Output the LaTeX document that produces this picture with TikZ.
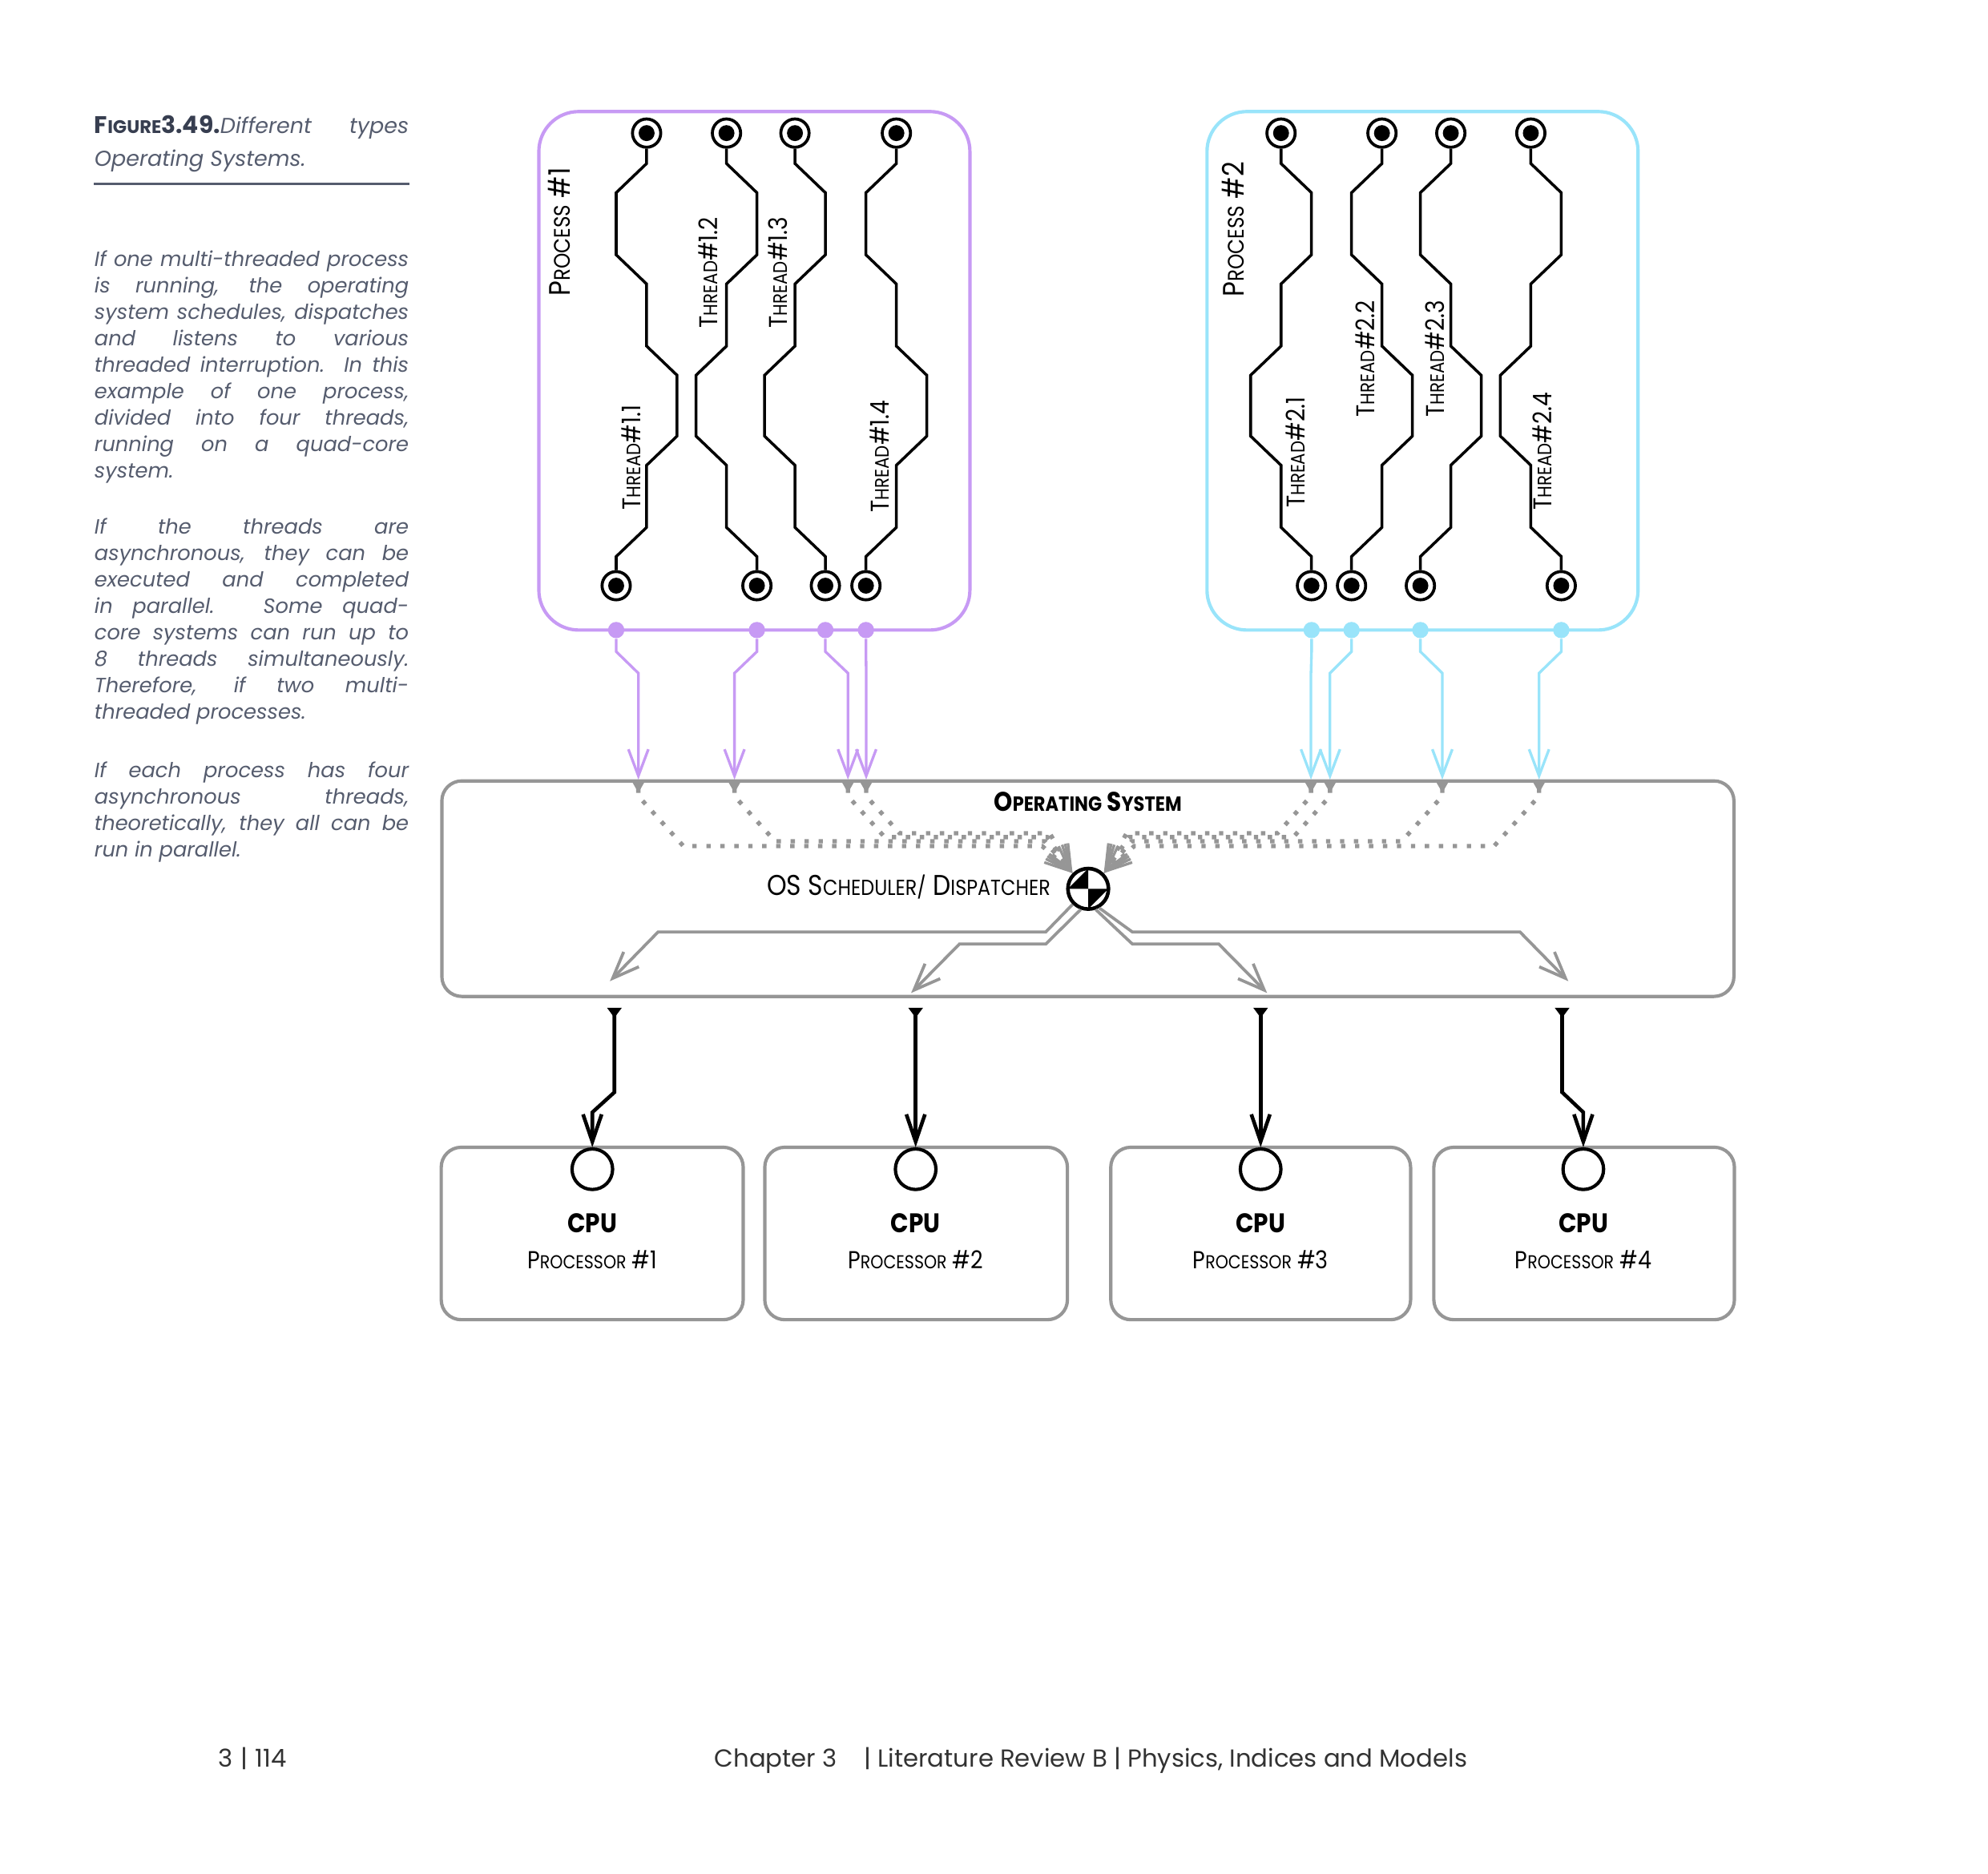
\documentclass[tikz,border=0pt]{standalone}
\usepackage{fontspec}
\usepackage{graphicx}
\setmainfont{Poppins}
\newfontfamily\labfont[FakeStretch=0.88]{Poppins}
\usetikzlibrary{arrows.meta}

\definecolor{procA}{RGB}{199,154,244}
\definecolor{procB}{RGB}{153,228,250}
\definecolor{osgray}{RGB}{150,150,150}
\definecolor{slate}{RGB}{85,92,110}
\definecolor{slatedark}{RGB}{55,62,80}
\definecolor{footgray}{RGB}{50,50,50}

% fake small caps: first letter full size, rest scaled down
\newcommand{\smc}[2]{#1\scalebox{0.76}{#2}}

\tikzset{
  term/.style={circle, draw, line width=0.9pt, fill=white, inner sep=0pt, minimum size=8.5pt,
    path picture={\fill[black] (path picture bounding box.center) circle (2.4pt);}},
  wire/.style={line width=0.85pt},
  procbox/.style={line width=1pt, rounded corners=12pt},
  joint/.style={circle, inner sep=0pt, minimum size=4.9pt},
  feed/.style={line width=0.8pt, -{Straight Barb[length=8pt,width=6pt]}},
  osbox/.style={draw=osgray, line width=1pt, rounded corners=6pt},
  disp/.style={circle, draw, line width=1.1pt, fill=white, inner sep=0pt, minimum size=12.2pt,
    path picture={
      \fill[black] (path picture bounding box.center) -- (path picture bounding box.west) -- (path picture bounding box.north) -- cycle;
      \fill[black] (path picture bounding box.center) -- (path picture bounding box.east) -- (path picture bounding box.south) -- cycle;}},
  dotline/.style={draw=osgray, line width=1.3pt, dash pattern=on 1.3pt off 2.9pt,
    arrows={Triangle[reversed,length=4pt,width=4.2pt]-Straight Barb[length=7.5pt,width=6.5pt,line width=0.8pt]}},
  outarrow/.style={draw=osgray, line width=0.9pt, -{Straight Barb[length=8pt,width=6.4pt]}},
  cpuarrow/.style={line width=1.1pt, arrows={Triangle[reversed,length=3pt,width=4.2pt]-Straight Barb[length=8.2pt,width=5.6pt]}},
  cpubox/.style={draw=osgray, line width=1pt, rounded corners=6pt},
  cpucirc/.style={circle, draw, line width=1pt, fill=white, inner sep=0pt, minimum size=12.2pt},
  thlab/.style={font=\labfont\fontsize{7.7}{8}\selectfont, inner sep=0pt, rotate=90, anchor=base},
  proclab/.style={font=\labfont\fontsize{8.9}{9}\selectfont, inner sep=0pt, rotate=90, anchor=base},
  oslab/.style={font=\labfont\bfseries\fontsize{8.1}{9}\selectfont, inner sep=0pt, anchor=base},
  schedlab/.style={font=\labfont\fontsize{8.6}{9}\selectfont, inner sep=0pt, anchor=base east},
  cpulab/.style={font=\labfont\bfseries\fontsize{8.1}{9}\selectfont, inner sep=0pt, anchor=base},
  prlab/.style={font=\labfont\fontsize{7.4}{8}\selectfont, inner sep=0pt, anchor=base},
  body/.style={font=\itshape\fontsize{6.2}{7.97}\selectfont, text=slate, text width=94.5pt, align=justify,
    inner sep=0pt, anchor=base west},
  capt/.style={font=\fontsize{6.5}{9.8}\selectfont, text=slate, text width=94.5pt, align=justify,
    inner sep=0pt, anchor=base west},
  foot/.style={font=\fontsize{7.4}{8}\selectfont, text=footgray, inner sep=0pt, anchor=base west}
}

\begin{document}
\begin{tikzpicture}[x=0.013393cm, y=-0.013393cm]
\fill[white] (0,0) rectangle (1568,1478);
\tolerance=10000 \hbadness=10000 \hyphenpenalty=10000

% side text
\node[capt] (capt) at (74,105.3) {\textcolor{slatedark}{\fontsize{7.2}{9.8}\selectfont\textbf{\smc{F}{IGURE}3.49.}}\textit{Different}\hfill\textit{types}\linebreak
  \textit{Operating Systems.}};
\draw[slate, line width=0.6pt] (74,145) -- (323,145);
\node[body] (par1) at (74,210) {If one multi-threaded process\linebreak is running, the operating\linebreak
  system schedules, dispatches\linebreak and listens to various\linebreak threaded interruption. In this\linebreak
  example of one process,\linebreak divided into four threads,\linebreak running on a quad-core\linebreak system.};
\node[body] (par2) at (74,421) {If the threads are\linebreak asynchronous, they can be\linebreak
  executed and completed\linebreak in parallel. Some quad-\linebreak core systems can run up to\linebreak
  8 threads simultaneously.\linebreak Therefore, if two multi-\linebreak threaded processes.};
\node[body] (par3) at (74,613.5) {If each process has four\linebreak asynchronous threads,\linebreak
  theoretically, they all can be\linebreak run in parallel.};

% processes
\draw[procbox, draw=procA] (425,88) rectangle (765,497);
\draw[procbox, draw=procB] (952,88) rectangle (1292,497);
\node[proclab] (proc1) at (449.5,183) {\smc{P}{ROCESS} \#1};
\node[proclab] (proc2) at (981,181) {\smc{P}{ROCESS} \#2};

% threads
\foreach \n/\bx/\sg in {11/510/-1, 12/573/1, 13/627/1, 14/707/-1, 21/1010.4/1, 22/1090/-1, 23/1144.3/-1, 24/1207.4/1} {
  \pgfmathsetmacro\xa{\bx+24*\sg}
  \pgfmathsetmacro\xb{\bx-24*\sg}
  \node[term] (top\n) at (\bx,105) {};
  \node[term] (bot\n) at (\xa,462) {};
  \draw[wire] (top\n) -- (\bx,129) -- (\xa,152) -- (\xa,201) -- (\bx,224) -- (\bx,273) -- (\xb,296)
    -- (\xb,344) -- (\bx,367) -- (\bx,416) -- (\xa,439) -- (bot\n);
}
\foreach \n/\txt/\lx/\ly in {11/1.1/505/361, 12/1.2/566/215, 13/1.3/621/215, 14/1.4/701/360,
    21/2.1/1029/357, 22/2.2/1084/283, 23/2.3/1139/283, 24/2.4/1224/356}
  \node[thlab] (lab\n) at (\lx,\ly) {\smc{T}{HREAD}\#\txt};

% process outputs to the OS
\foreach \n/\dx/\ax in {11/486/503.5, 12/597/579.3, 13/651/668.8, 14/683/683.2} {
  \node[joint, fill=procA] (j\n) at (\dx,497) {};
  \coordinate (in\n) at (\ax,615);
  \draw[feed, procA] (j\n) -- (\dx,514) -- (\ax,531) -- (in\n);
}
\foreach \n/\dx/\ax in {21/1034.5/1034, 22/1066/1049, 23/1120.3/1137.6, 24/1231.4/1213.9} {
  \node[joint, fill=procB] (j\n) at (\dx,497) {};
  \coordinate (in\n) at (\ax,615);
  \draw[feed, procB] (j\n) -- (\dx,514) -- (\ax,531) -- (in\n);
}

% operating system
\draw[osbox] (348.5,616) rectangle (1367.6,786);
\node[oslab] (ostitle) at (858,640) {\smc{O}{PERATING} \smc{S}{YSTEM}};
\node[schedlab] (sched) at (829,706) {OS \smc{S}{CHEDULER/} \smc{D}{ISPATCHER}};
\node[disp] (disp) at (858.3,701.1) {};

\foreach \n/\lv/\hx/\ex in {11/667.4/539/822, 12/663.6/611.3/824, 13/660.4/697.8/826, 14/657.3/709.6/828}
  \draw[dotline] (in\n) -- ++(0,13) -- (\hx,\lv) -- (\ex,\lv) -- (disp.135);
\foreach \n/\lv/\hx/\ex in {21/657.3/1007.6/888.6, 22/660.4/1020/890.6, 23/663.6/1105.6/892.6, 24/667.4/1178.4/894.6}
  \draw[dotline] (in\n) -- ++(0,13) -- (\hx,\lv) -- (\ex,\lv) -- (disp.45);

\coordinate (o1) at (481,774);
\coordinate (o2) at (718.6,783.3);
\coordinate (o3) at (999.4,783.3);
\coordinate (o4) at (1237,774);
\draw[outarrow] (disp.225) -- (824.8,735.2) -- (519,735.2) -- (o1);
\draw[outarrow] (disp.250) -- (824.8,744.7) -- (756.7,744.7) -- (o2);
\draw[outarrow] (disp.290) -- (893.2,744.7) -- (961.3,744.7) -- (o3);
\draw[outarrow] (disp.300) -- (893.2,735.2) -- (1198.9,735.2) -- (o4);

% processors
\foreach \n/\lx/\rx/\cx in {1/348/586.2/467.2, 2/603.2/841.9/722.2, 3/876.1/1112.6/994.3, 4/1130.9/1368/1248.8} {
  \draw[cpubox] (\lx,905) rectangle (\rx,1041);
  \node[cpucirc] (c\n) at (\cx,922.3) {};
  \node[cpulab] (cpu\n) at (\cx,972.2) {CPU};
  \node[prlab] (pr\n) at (\cx,1000.7) {\smc{P}{ROCESSOR} \#\n};
}
\coordinate (s1) at (484.6,795);
\coordinate (s2) at (722.2,795);
\coordinate (s3) at (994.3,795);
\coordinate (s4) at (1232.1,795);
\draw[cpuarrow] (s1) -- (484.6,861.6) -- (467.2,877.4) -- (c1);
\draw[cpuarrow] (s2) -- (c2);
\draw[cpuarrow] (s3) -- (c3);
\draw[cpuarrow] (s4) -- (1232.1,861.6) -- (1248.8,877.4) -- (c4);

% footer
\node[foot] (page) at (172,1394) {3\hspace{0.3em}|\hspace{0.3em}114};
\node[foot] (chap) at (563,1394) {Chapter 3\hspace{1.1em}| Literature Review B | Physics, Indices and Models};
\end{tikzpicture}
\end{document}
